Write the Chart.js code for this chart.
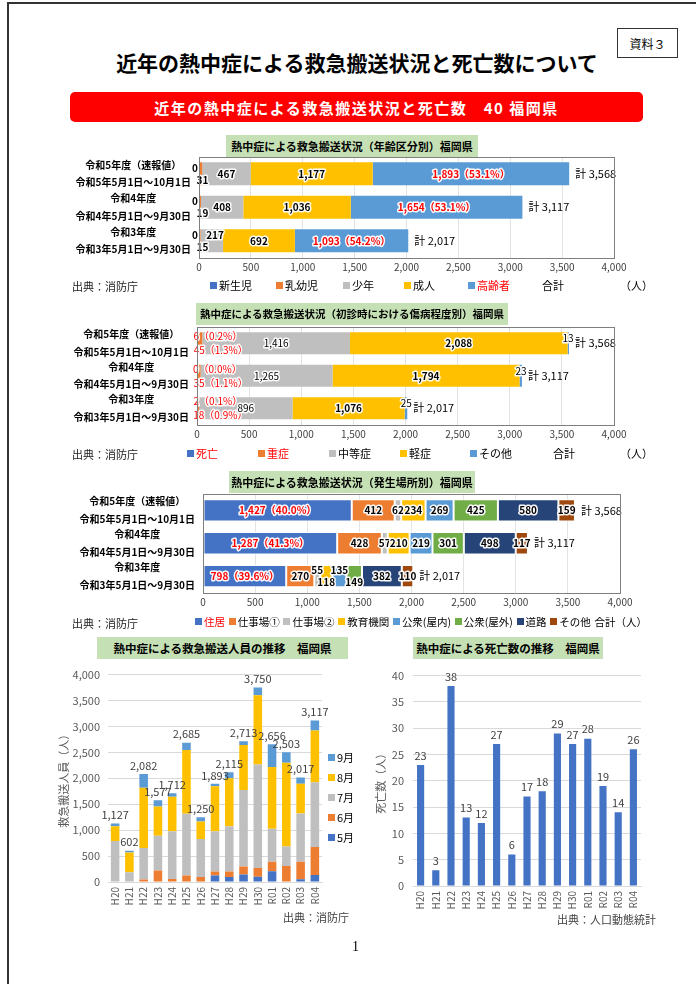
<!DOCTYPE html>
<html lang="ja">
<head>
<meta charset="utf-8">
<script src="https://cdn.jsdelivr.net/npm/chart.js@4.4.0/dist/chart.umd.min.js"></script>
<style>
  body { margin:0; width:696px; height:984px; background:#fff; font-family:"Noto Sans CJK JP", sans-serif; position:relative; overflow:hidden; color:#000; }
  .abs { position:absolute; }
  canvas { position:absolute; }
  .frame { position:absolute; left:7px; top:2px; width:760px; height:1040px; border:2px solid #333; box-sizing:border-box; }
  .doc-id { left:617px; top:28px; width:61px; height:30px; border:1px solid #333; box-sizing:border-box; font-size:12px; display:flex; align-items:center; justify-content:center; }
  .main-title { left:0; width:714px; top:47px; text-align:center; font-size:21px; font-weight:bold; line-height:30px; }
  .banner { left:70px; top:92px; width:573px; height:30px; background:#ff0000; border-radius:5px; color:#fff; font-weight:bold; font-size:15px; letter-spacing:1.5px; display:flex; align-items:center; justify-content:center; }
  .ctitle { position:absolute; background:#C5E0B4; font-weight:bold; font-size:11px; text-align:center; height:22px; line-height:22px; z-index:2; white-space:nowrap; }
  .lg { position:absolute; font-size:11px; white-space:nowrap; line-height:14px; z-index:2; }
  .lg i { display:inline-block; width:7px; height:7px; margin-right:2px; vertical-align:1px; }
  .lgrow { position:absolute; display:flex; justify-content:space-between; font-size:10.5px; line-height:14px; white-space:nowrap; z-index:2; }
  .lgrow i { display:inline-block; width:7px; height:7px; margin-right:2px; vertical-align:1px; }
  .src { position:absolute; font-size:11px; color:#222; white-space:nowrap; }
  .src2 { position:absolute; font-size:11px; color:#404040; white-space:nowrap; }
</style>
</head>
<body>
<div class="frame"></div>
<div class="abs doc-id">資料３</div>
<div class="abs main-title">近年の熱中症による救急搬送状況と死亡数について</div>
<div class="abs banner">近年の熱中症による救急搬送状況と死亡数　40 福岡県</div>

<div class="ctitle" style="left:226px;top:135px;width:252px;">熱中症による救急搬送状況（年齢区分別）福岡県</div>
<canvas id="ageChart" width="620" height="155" style="left:60px;top:128px;"></canvas>
<div class="src" style="left:72px;top:278px;">出典：消防庁</div>
<div id="ageLegend"></div>

<div class="ctitle" style="left:196px;top:303px;width:312px;font-size:10.5px;">熱中症による救急搬送状況（初診時における傷病程度別）福岡県</div>
<canvas id="severityChart" width="620" height="150" style="left:60px;top:300px;"></canvas>
<div class="src" style="left:72px;top:446px;">出典：消防庁</div>
<div id="severityLegend"></div>

<div class="ctitle" style="left:229px;top:471px;width:246px;">熱中症による救急搬送状況（発生場所別）福岡県</div>
<canvas id="placeChart" width="620" height="152" style="left:60px;top:466px;"></canvas>
<div class="src" style="left:72px;top:615px;">出典：消防庁</div>
<div id="placeLegend" class="lgrow" style="left:195px;top:615px;width:452px;"></div>

<div class="ctitle" style="left:97px;top:637px;width:251px;font-size:11.5px;">熱中症による救急搬送人員の推移　福岡県</div>
<canvas id="monthChart" width="300" height="252" style="left:55px;top:660px;"></canvas>
<div id="monthLegend"></div>
<div class="src2" style="left:283px;top:909px;">出典：消防庁</div>

<div class="ctitle" style="left:413px;top:637px;width:190px;font-size:11.5px;">熱中症による死亡数の推移　福岡県</div>
<canvas id="deathChart" width="280" height="256" style="left:372px;top:660px;"></canvas>
<div class="src2" style="left:557px;top:911px;">出典：人口動態統計</div>

<div class="abs" style="left:352px;top:939px;font-family:'Liberation Serif',serif;font-size:14px;">1</div>

<script>
// ---- data ----
const yearLabels = [
  ['令和5年度（速報値）', '令和5年5月1日～10月1日'],
  ['令和4年度', '令和4年5月1日～9月30日'],
  ['令和3年度', '令和3年5月1日～9月30日']
];
const totals = [3568, 3117, 2017];

const ageSeries = ['新生児', '乳幼児', '少年', '成人', '高齢者'];
const ageColors = ['#4472C4', '#ED7D31', '#BFBFBF', '#FFC000', '#5B9BD5'];
const ageNewborn = [0, 0, 0];
const ageInfant = [31, 19, 15];
const ageYouth = [467, 408, 217];
const ageAdult = [1177, 1036, 692];
const ageElderly = [1893, 1654, 1093];

const sevSeries = ['死亡', '重症', '中等症', '軽症', 'その他'];
const sevColors = ['#4472C4', '#ED7D31', '#BFBFBF', '#FFC000', '#5B9BD5'];
const sevDeath = [6, 0, 2];
const sevSevere = [45, 35, 18];
const sevModerate = [1416, 1265, 896];
const sevMild = [2088, 1794, 1076];
const sevOther = [13, 23, 25];

const placeSeries = ['住居', '仕事場①', '仕事場②', '教育機関', '公衆(屋内)', '公衆(屋外)', '道路', 'その他'];
const placeColors = ['#4472C4', '#ED7D31', '#BFBFBF', '#FFC000', '#5B9BD5', '#70AD47', '#264478', '#9E480E'];
const placeHome = [1427, 1287, 798];
const placeWork1 = [412, 428, 270];
const placeWork2 = [62, 57, 55];
const placeSchool = [234, 210, 118];
const placeIndoor = [269, 219, 135];
const placeOutdoor = [425, 301, 149];
const placeRoad = [580, 498, 382];
const placeOther = [159, 117, 110];

const fiscalYears = ['H20', 'H21', 'H22', 'H23', 'H24', 'H25', 'H26', 'H27', 'H28', 'H29', 'H30', 'R01', 'R02', 'R03', 'R04'];
const monthSeries = ['5月', '6月', '7月', '8月', '9月'];
const monthColors = ['#4472C4', '#ED7D31', '#BFBFBF', '#FFC000', '#5B9BD5'];
const may = [0, 0, 0, 0, 0, 0, 0, 127, 95, 146, 101, 209, 0, 51, 133];
const june = [0, 0, 50, 222, 57, 127, 95, 76, 108, 152, 171, 183, 310, 341, 544];
const july = [790, 190, 608, 671, 924, 1190, 734, 778, 873, 1474, 1994, 633, 374, 931, 1247];
const august = [285, 380, 1159, 563, 665, 1228, 336, 867, 924, 868, 1336, 1191, 1614, 570, 1000];
const september = [52, 32, 265, 121, 66, 140, 85, 45, 115, 73, 148, 440, 205, 124, 193];
const yearTotals = [1127, 602, 2082, 1577, 1712, 2685, 1250, 1893, 2115, 2713, 3750, 2656, 2503, 2017, 3117];

const deaths = [23, 3, 38, 13, 12, 27, 6, 17, 18, 29, 27, 28, 19, 14, 26];

// ---- helpers ----
const FONT = '"Noto Sans CJK JP", sans-serif';
Chart.defaults.font.family = FONT;
const fmt = v => v.toLocaleString('en-US');
const pct = (v, t) => (v / t * 100).toFixed(1);

function drawText(ctx, text, x, y, o = {}) {
  ctx.save();
  ctx.font = `${o.bold === false ? '' : 'bold '}${o.size || 10}px ${FONT}`;
  ctx.textAlign = o.align || 'center';
  ctx.textBaseline = o.baseline || 'middle';
  if (o.halo !== false) {
    ctx.lineWidth = 3;
    ctx.lineJoin = 'round';
    ctx.strokeStyle = 'rgba(255,255,255,0.95)';
    ctx.strokeText(text, x, y);
  }
  ctx.fillStyle = o.color || '#000';
  ctx.fillText(text, x, y);
  ctx.restore();
}

const boxPlugin = {
  id: 'box',
  afterDraw(chart) {
    const a = chart.chartArea, ctx = chart.ctx;
    ctx.save();
    ctx.strokeStyle = '#7F7F7F';
    ctx.lineWidth = 1;
    ctx.strokeRect(Math.round(a.left) + 0.5, Math.round(a.top) + 0.5, Math.round(a.right - a.left), Math.round(a.bottom - a.top));
    ctx.restore();
  }
};

function labelPlugin(fn) {
  return {
    id: 'labels',
    afterDatasetsDraw(chart) {
      chart.data.datasets.forEach((ds, di) => {
        chart.getDatasetMeta(di).data.forEach((bar, i) => fn(chart.ctx, di, i, bar, ds.data[i], chart));
      });
    }
  };
}

function totalLabels(ctx, di, i, bar, chart) {
  if (di !== chart.data.datasets.length - 1) return;
  drawText(ctx, '計 ' + fmt(totals[i]), bar.x + 6, bar.y, {align: 'left', bold: false, size: 11, halo: false});
}

function hbar(id, series, colors, values, yw, padTop, padRight, withBorder, labelFn) {
  return new Chart(document.getElementById(id), {
    type: 'bar',
    data: {
      labels: yearLabels,
      datasets: series.map((name, k) => ({
        label: name,
        data: values[k],
        backgroundColor: colors[k],
        borderColor: '#fff',
        borderWidth: withBorder ? 1 : 0,
        borderSkipped: false,
        barPercentage: 0.68,
        categoryPercentage: 1
      }))
    },
    options: {
      indexAxis: 'y',
      responsive: false,
      animation: false,
      layout: {padding: {top: padTop, right: padRight, left: 0, bottom: 0}},
      plugins: {legend: {display: false}, tooltip: {enabled: false}},
      scales: {
        x: {
          stacked: true, min: 0, max: 4000,
          ticks: {stepSize: 500, font: {size: 10}, color: '#404040', padding: 4},
          grid: {color: '#E3E3E3', drawTicks: false},
          border: {display: false},
          afterFit: a => { a.height = 18; }
        },
        y: {
          stacked: true,
          ticks: {font: {size: 10, weight: 'bold', lineHeight: 1.75}, color: '#000', crossAlign: 'center', padding: 8},
          grid: {display: false, drawTicks: false},
          border: {display: false},
          afterFit: a => { a.width = yw; }
        }
      }
    },
    plugins: [boxPlugin, labelPlugin(labelFn)]
  });
}

function legendItem(it) {
  const d = document.createElement('div');
  if (it.color) {
    const sw = document.createElement('i');
    sw.style.background = it.color;
    d.appendChild(sw);
  }
  const s = document.createElement('span');
  s.textContent = it.text;
  if (it.red) s.style.color = '#ff0000';
  d.appendChild(s);
  return d;
}

function legend(containerId, items, top) {
  const box = document.getElementById(containerId);
  items.forEach(it => {
    const d = legendItem(it);
    d.className = 'lg';
    d.style.left = it.x + 'px';
    d.style.top = (it.top !== undefined ? it.top : top) + 'px';
    box.appendChild(d);
  });
}

// ---- chart 1: age ----
hbar('ageChart', ageSeries, ageColors, [ageNewborn, ageInfant, ageYouth, ageAdult, ageElderly], 139, 29, 66, false,
  (ctx, di, i, bar, v, chart) => {
    const cx = (bar.x + bar.base) / 2;
    if (di === 0) drawText(ctx, fmt(v), bar.base - 1, bar.y - 6, {align: 'right'});
    else if (di === 1) drawText(ctx, fmt(v), bar.base + 3, bar.y + 6);
    else if (di === 2) drawText(ctx, fmt(v), i === 2 ? bar.x - 8 : cx, i === 2 ? bar.y - 6 : bar.y);
    else if (di === 3) drawText(ctx, fmt(v), cx, bar.y);
    else drawText(ctx, `${fmt(v)}（${pct(v, totals[i])}%）`, cx, bar.y, {color: '#ff0000'});
    totalLabels(ctx, di, i, bar, chart);
  });
legend('ageLegend', [
  {x: 210, text: ageSeries[0], color: ageColors[0]},
  {x: 276, text: ageSeries[1], color: ageColors[1]},
  {x: 343, text: ageSeries[2], color: ageColors[2]},
  {x: 404, text: ageSeries[3], color: ageColors[3]},
  {x: 468, text: ageSeries[4], color: ageColors[4], red: true},
  {x: 542, text: '合計'},
  {x: 620, text: '（人）'}
], 278);

// ---- chart 2: severity ----
hbar('severityChart', sevSeries, sevColors, [sevDeath, sevSevere, sevModerate, sevMild, sevOther], 137, 27, 66, false,
  (ctx, di, i, bar, v, chart) => {
    const cx = (bar.x + bar.base) / 2;
    if (di === 0) drawText(ctx, `${fmt(v)}（${pct(v, totals[i])}%）`, bar.base - 4, bar.y - 7, {align: 'left', color: '#ff0000', bold: false});
    else if (di === 1) drawText(ctx, `${fmt(v)}（${pct(v, totals[i])}%）`, bar.base - 4, bar.y + 7, {align: 'left', color: '#ff0000', bold: false});
    else if (di === 2) drawText(ctx, fmt(v), cx, bar.y, {bold: false});
    else if (di === 3) drawText(ctx, fmt(v), cx, bar.y);
    else drawText(ctx, fmt(v), bar.x - 1, bar.y - 5, {bold: false});
    totalLabels(ctx, di, i, bar, chart);
  });
legend('severityLegend', [
  {x: 187, text: sevSeries[0], color: sevColors[0], red: true},
  {x: 258, text: sevSeries[1], color: sevColors[1], red: true},
  {x: 329, text: sevSeries[2], color: sevColors[2]},
  {x: 400, text: sevSeries[3], color: sevColors[3]},
  {x: 470, text: sevSeries[4], color: sevColors[4]},
  {x: 553, text: '合計'},
  {x: 620, text: '（人）'}
], 446);

// ---- chart 3: place ----
hbar('placeChart', placeSeries, placeColors,
  [placeHome, placeWork1, placeWork2, placeSchool, placeIndoor, placeOutdoor, placeRoad, placeOther], 143, 28, 60, true,
  (ctx, di, i, bar, v, chart) => {
    const cx = (bar.x + bar.base) / 2;
    let dy = 0;
    if (i === 2 && di >= 2 && di <= 5) dy = (di % 2 === 0) ? -6 : 6;
    if (di === 0) drawText(ctx, `${fmt(v)}（${pct(v, totals[i])}%）`, cx, bar.y, {color: '#ff0000'});
    else drawText(ctx, fmt(v), cx, bar.y + dy);
    totalLabels(ctx, di, i, bar, chart);
  });
const placeLegend = document.getElementById('placeLegend');
placeSeries.forEach((name, k) => placeLegend.appendChild(legendItem({text: name, color: placeColors[k], red: k === 0})));
placeLegend.appendChild(legendItem({text: '合計（人）'}));

// ---- chart 4: monthly stacked ----
new Chart(document.getElementById('monthChart'), {
  type: 'bar',
  data: {
    labels: fiscalYears,
    datasets: [may, june, july, august, september].map((d, k) => ({
      label: monthSeries[k], data: d, backgroundColor: monthColors[k],
      barPercentage: 0.6, categoryPercentage: 1
    }))
  },
  options: {
    responsive: false, animation: false,
    layout: {padding: {top: 11, right: 33, left: 0, bottom: 0}},
    plugins: {legend: {display: false}, tooltip: {enabled: false}},
    scales: {
      x: {
        stacked: true,
        ticks: {minRotation: 90, maxRotation: 90, autoSkip: false, font: {size: 10}, color: '#595959', padding: 5},
        grid: {display: false, drawTicks: false},
        border: {color: '#D9D9D9'},
        afterFit: a => { a.height = 30; }
      },
      y: {
        stacked: true, min: 0, max: 4000,
        ticks: {stepSize: 500, font: {size: 11}, color: '#595959', padding: 8},
        grid: {color: '#D9D9D9', drawTicks: false},
        border: {display: false},
        title: {display: true, text: '救急搬送人員（人）', font: {size: 11}, color: '#595959', padding: {top: 2, bottom: 2}},
        afterFit: a => { a.width = 53; }
      }
    }
  },
  plugins: [labelPlugin((ctx, di, i, bar, v, chart) => {
    if (di !== 4) return;
    drawText(ctx, fmt(yearTotals[i]), bar.x, bar.y - 3, {baseline: 'bottom', bold: false, size: 11, color: '#404040', halo: false});
  })]
});
legend('monthLegend', monthSeries.map((m, k) => ({x: 328, text: m, color: monthColors[k], top: 830 - k * 20})), 0);

// ---- chart 5: deaths ----
new Chart(document.getElementById('deathChart'), {
  type: 'bar',
  data: {
    labels: fiscalYears,
    datasets: [{label: '死亡数', data: deaths, backgroundColor: '#4472C4', barPercentage: 0.47, categoryPercentage: 1}]
  },
  options: {
    responsive: false, animation: false,
    layout: {padding: {top: 14, right: 11, left: 0, bottom: 0}},
    plugins: {legend: {display: false}, tooltip: {enabled: false}},
    scales: {
      x: {
        ticks: {minRotation: 90, maxRotation: 90, autoSkip: false, font: {size: 10}, color: '#595959', padding: 5},
        grid: {display: false, drawTicks: false},
        border: {color: '#D9D9D9'},
        afterFit: a => { a.height = 30; }
      },
      y: {
        min: 0, max: 40,
        ticks: {stepSize: 5, font: {size: 11}, color: '#595959', padding: 9},
        grid: {color: '#D9D9D9', drawTicks: false},
        border: {display: false},
        title: {display: true, text: '死亡数（人）', font: {size: 11}, color: '#595959', padding: {top: 2, bottom: 2}},
        afterFit: a => { a.width = 41; }
      }
    }
  },
  plugins: [labelPlugin((ctx, di, i, bar, v) => {
    drawText(ctx, fmt(v), bar.x, bar.y - 4, {baseline: 'bottom', bold: false, size: 11, color: '#404040', halo: false});
  })]
});
</script>
</body>
</html>
